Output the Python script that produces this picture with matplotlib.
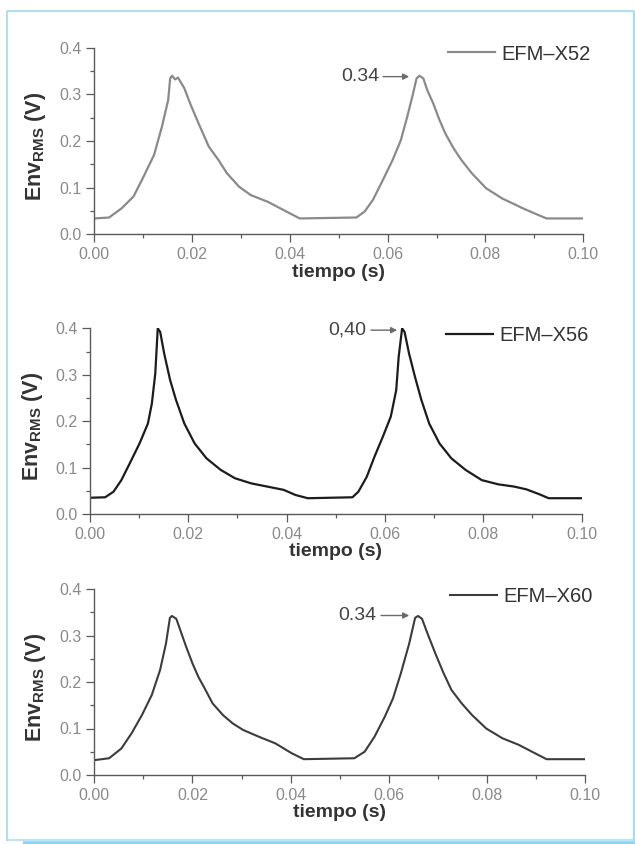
import matplotlib
matplotlib.use("Agg")
import matplotlib.pyplot as plt
from matplotlib.lines import Line2D

plt.rcParams['font.family'] = ['Liberation Sans', 'DejaVu Sans']
plt.rcParams['mathtext.default'] = 'regular'

# ---- data: RMS envelope over time for three electrode types ----
x52_t = [0.000, 0.003, 0.0056, 0.008, 0.0097, 0.0122, 0.0138, 0.0151, 0.0155, 0.0159,
         0.0165, 0.0171, 0.0184, 0.0196, 0.0213, 0.0234, 0.0254, 0.0271, 0.0296, 0.032,
         0.0354, 0.0387, 0.042, 0.0536, 0.0553, 0.057, 0.059, 0.061, 0.0627, 0.064,
         0.0652, 0.0659, 0.0665, 0.0673, 0.0681, 0.0693, 0.0706, 0.0718, 0.0735, 0.0751,
         0.0772, 0.0801, 0.0834, 0.0876, 0.090, 0.0925, 0.100]
x52_v = [0.034, 0.036, 0.056, 0.081, 0.116, 0.170, 0.230, 0.288, 0.334, 0.340,
         0.332, 0.336, 0.313, 0.280, 0.238, 0.188, 0.159, 0.131, 0.102, 0.084,
         0.070, 0.052, 0.034, 0.036, 0.049, 0.074, 0.116, 0.159, 0.202, 0.252,
         0.302, 0.334, 0.340, 0.334, 0.309, 0.281, 0.245, 0.216, 0.184, 0.159,
         0.131, 0.099, 0.077, 0.056, 0.045, 0.034, 0.034]

x56_t = [0.000, 0.0031, 0.0048, 0.0064, 0.0081, 0.0101, 0.0118, 0.0126, 0.0133, 0.0138,
         0.0143, 0.0151, 0.0163, 0.0175, 0.0192, 0.0213, 0.0237, 0.0266, 0.0295, 0.0328,
         0.0361, 0.0394, 0.0418, 0.0443, 0.0534, 0.0546, 0.0563, 0.0579, 0.0596, 0.0612,
         0.0623, 0.0628, 0.0635, 0.0640, 0.0649, 0.0661, 0.0674, 0.0690, 0.0711, 0.0735,
         0.0764, 0.0797, 0.0830, 0.0863, 0.0888, 0.0913, 0.0933, 0.100]
x56_v = [0.035, 0.036, 0.048, 0.073, 0.109, 0.152, 0.195, 0.238, 0.303, 0.400,
         0.392, 0.346, 0.289, 0.246, 0.195, 0.152, 0.120, 0.095, 0.077, 0.066,
         0.059, 0.052, 0.041, 0.034, 0.036, 0.048, 0.080, 0.124, 0.167, 0.210,
         0.267, 0.339, 0.400, 0.392, 0.346, 0.296, 0.246, 0.195, 0.152, 0.120,
         0.095, 0.073, 0.064, 0.059, 0.053, 0.043, 0.034, 0.034]

x60_t = [0.000, 0.003, 0.0055, 0.0076, 0.0097, 0.0117, 0.0134, 0.0146, 0.0154, 0.0158,
         0.0167, 0.0175, 0.0187, 0.0200, 0.0212, 0.0225, 0.0241, 0.0262, 0.0282, 0.0303,
         0.0336, 0.0369, 0.0402, 0.0427, 0.0530, 0.0551, 0.0571, 0.0592, 0.0609, 0.0625,
         0.0642, 0.0654, 0.0660, 0.0668, 0.0679, 0.0695, 0.0712, 0.0728, 0.0749, 0.0770,
         0.0799, 0.0832, 0.0865, 0.0898, 0.0922, 0.100]
x60_v = [0.032, 0.036, 0.057, 0.090, 0.129, 0.172, 0.226, 0.283, 0.338, 0.342,
         0.336, 0.312, 0.276, 0.240, 0.211, 0.186, 0.154, 0.129, 0.111, 0.097,
         0.082, 0.068, 0.047, 0.034, 0.036, 0.050, 0.082, 0.125, 0.165, 0.219,
         0.283, 0.338, 0.342, 0.336, 0.305, 0.262, 0.219, 0.183, 0.154, 0.129,
         0.100, 0.079, 0.065, 0.047, 0.034, 0.034]

series_names = ['EFM\u2013X52', 'EFM\u2013X56', 'EFM\u2013X60']
peak_labels = ['0.34', '0,40', '0.34']
peak_points = [(0.0644, 0.338), (0.0625, 0.396), (0.0642, 0.343)]
label_text_x = [0.0582, 0.0563, 0.0576]

x_ticks = [0.00, 0.02, 0.04, 0.06, 0.08, 0.10]
x_ticklabels = ['0.00', '0.02', '0.04', '0.06', '0.08', '0.10']
y_ticks = [0.0, 0.1, 0.2, 0.3, 0.4]
y_ticklabels = ['0.0', '0.1', '0.2', '0.3', '0.4']

line_colors = ['#8a8a8a', '#1c1c1c', '#3c3c3c']
line_widths = [1.6, 1.6, 1.5]

W, H = 635, 844
fig = plt.figure(figsize=(W / 100, H / 100), dpi=100)

# axes boxes in pixels: left, top, right, bottom
boxes = [(94.4, 47.7, 583.2, 234.3), (89.9, 328.3, 581.6, 514.0), (94.4, 589.0, 584.8, 775.0)]
legend_anchor = [(1.016, 0.966), (1.015, 0.960), (1.017, 0.962)]
ylabel_x = [-0.095, -0.092, -0.095]

data = [(x52_t, x52_v), (x56_t, x56_v), (x60_t, x60_v)]

for i, (l, t, r, b) in enumerate(boxes):
    ax = fig.add_axes([l / W, 1 - b / H, (r - l) / W, (b - t) / H])
    tt, vv = data[i]
    ax.plot(tt, vv, color=line_colors[i], lw=line_widths[i], label=series_names[i],
            solid_joinstyle='round')
    ax.set_xlim(0, 0.1)
    ax.set_ylim(0, 0.4)
    for s in ('top', 'right'):
        ax.spines[s].set_visible(False)
    for s in ('left', 'bottom'):
        ax.spines[s].set_color('#5a5a5a')
        ax.spines[s].set_linewidth(1.0)
    ax.set_xticks(x_ticks)
    ax.set_xticklabels(x_ticklabels)
    ax.set_yticks(y_ticks)
    ax.set_yticklabels(y_ticklabels)
    ax.set_xticks([0.01, 0.03, 0.05, 0.07, 0.09], minor=True)
    ax.set_yticks([0.05, 0.15, 0.25, 0.35], minor=True)
    ax.tick_params(which='major', direction='out', length=5.5, width=0.9,
                   color='#5a5a5a', labelsize=11.5, labelcolor='#8a8a8a')
    ax.tick_params(which='minor', direction='out', length=2.8, width=0.9, color='#5a5a5a')
    ax.tick_params(axis='x', which='major', pad=4)
    ax.tick_params(axis='y', which='major', pad=3.5)

    ax.set_xlabel('tiempo (s)', fontsize=14, fontweight='bold', color='#333333')
    ax.xaxis.set_label_coords(0.5, -0.158)
    ax.set_ylabel('Env$_{RMS}$ (V)', fontsize=15.5, fontweight='bold', color='#333333')
    ax.yaxis.set_label_coords(ylabel_x[i], 0.47)

    leg = ax.legend(loc='center right', bbox_to_anchor=legend_anchor[i], frameon=False,
                    fontsize=14.5, handlelength=2.3, handletextpad=0.35, borderpad=0,
                    borderaxespad=0)
    for txt in leg.get_texts():
        txt.set_color('#333333')

    px, py = peak_points[i]
    ax.annotate(peak_labels[i], xy=(px, py), xytext=(label_text_x[i], py),
                ha='right', va='center', fontsize=14, color='#444444',
                arrowprops=dict(arrowstyle='-|>', color='#6a6a6a', lw=1.0,
                                mutation_scale=9, shrinkA=1, shrinkB=0))

# surrounding frame
frame_col = '#a3def5'
def fline(xs, ys, lw, col=frame_col):
    fig.add_artist(Line2D([x / W for x in xs], [1 - y / H for y in ys],
                          color=col, lw=lw, solid_capstyle='butt'))

fline([6.5, 6.5], [10.5, 840.5], 1.3)
fline([6.5, 633.5], [10.8, 10.8], 1.3)
fline([633.5, 633.5], [10.5, 840.5], 1.6)
fline([6.5, 633.5], [840.2, 840.2], 1.1)
fline([23, 635], [842.6, 842.6], 2.6, '#8bd4ef')

fig.savefig('out.png', dpi=100, facecolor='white')
